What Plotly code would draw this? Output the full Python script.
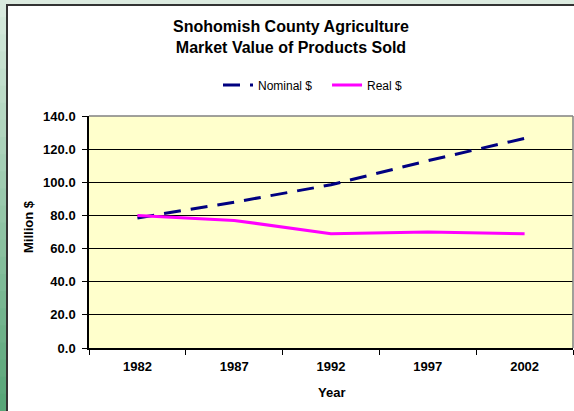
import plotly.graph_objects as go

# Data (million $)
years = ['1982', '1987', '1992', '1997', '2002']
nominal = [78.5, 88.0, 98.5, 113.0, 126.5]
real = [80.0, 77.0, 69.0, 70.0, 69.0]

W, H = 574, 411
L, R, T, B = 89, 1, 116, 63
pw, ph = W - L - R, H - T - B


def px(x):
    return (x - L) / pw


def py(y):
    return (H - B - y) / ph


fig = go.Figure()

fig.add_trace(go.Scatter(x=years, y=nominal, mode='lines', name='Nominal $\u00a0\u00a0\u00a0',
                         line=dict(color='#000080', width=3, dash='17px,10px')))
fig.add_trace(go.Scatter(x=years, y=real, mode='lines', name='Real $',
                         line=dict(color='#FF00FF', width=3)))

# green frame around the slide (gradient down the left side)
shapes = []
top_c = (0xd8, 0xea, 0xde)
bot_c = (0x58, 0xa6, 0x78)
n = 24
for i in range(n):
    t = i / (n - 1)
    c = tuple(int(top_c[k] + (bot_c[k] - top_c[k]) * t) for k in range(3))
    y0 = H * i / n
    y1 = H * (i + 1) / n + 1
    shapes.append(dict(type='rect', xref='paper', yref='paper', layer='above',
                       x0=px(0), x1=px(6), y0=py(y1), y1=py(y0),
                       fillcolor='rgb(%d,%d,%d)' % c, line=dict(width=0)))
shapes.append(dict(type='rect', xref='paper', yref='paper', layer='above',
                   x0=px(6), x1=px(W), y0=py(4), y1=py(0),
                   fillcolor='#dcebe0', line=dict(width=0)))
shapes.append(dict(type='line', xref='paper', yref='paper', layer='above',
                   x0=px(7), x1=px(7), y0=py(H), y1=py(4.5),
                   line=dict(color='#333333', width=2)))
shapes.append(dict(type='line', xref='paper', yref='paper', layer='above',
                   x0=px(6), x1=px(W), y0=py(5), y1=py(5),
                   line=dict(color='#333333', width=2)))
# grey border on top/right of the plot area
shapes.append(dict(type='line', xref='paper', yref='paper',
                   x0=0, x1=1, y0=1, y1=1, line=dict(color='#808080', width=1.5)))
shapes.append(dict(type='line', xref='paper', yref='paper',
                   x0=1, x1=1, y0=0, y1=1, line=dict(color='#808080', width=1.5)))

annotations = [
    dict(text='<b>Year</b>', xref='paper', yref='paper', x=px(331), y=py(392),
         xanchor='center', yanchor='middle', showarrow=False, font=dict(size=13)),
    dict(text='<b>Million $</b>', xref='paper', yref='paper', x=px(28), y=py(227),
         xanchor='center', yanchor='middle', showarrow=False, textangle=-90,
         font=dict(size=13)),
]

fig.update_layout(
    width=W, height=H,
    margin=dict(l=L, r=R, t=T, b=B, autoexpand=False),
    paper_bgcolor='white',
    plot_bgcolor='#FFFFCC',
    font=dict(family='Arial, Liberation Sans', size=12, color='black'),
    title=dict(text='<b>Snohomish County Agriculture<br>Market Value of Products Sold</b>',
               xref='container', x=291 / W, xanchor='center',
               yref='container', y=1 - 32 / H, yanchor='top',
               font=dict(size=16)),
    legend=dict(orientation='h', x=px(313), xanchor='center', y=py(85), yanchor='middle',
                font=dict(size=12), bgcolor='rgba(0,0,0,0)', itemwidth=30),
    shapes=shapes,
    annotations=annotations,
    showlegend=True,
)

fig.update_xaxes(
    type='category', tickson='boundaries', range=[-0.5, 4.5], automargin=False,
    showline=True, linecolor='black', linewidth=1.5,
    ticks='outside', ticklen=5, tickcolor='black', ticklabelstandoff=6,
    showgrid=False,
    tickfont=dict(size=13, weight='bold'),
)
fig.update_yaxes(
    range=[0, 140], dtick=20, tickformat='.1f', automargin=False,
    showline=True, linecolor='black', linewidth=1.5,
    ticks='outside', ticklen=5, tickcolor='black', ticklabelstandoff=4,
    showgrid=True, gridcolor='black', gridwidth=1, zeroline=False,
    tickfont=dict(size=13, weight='bold'),
)

# drop the browser's default body margin so the figure sits at the window origin
fig.write_html('out.html', config={'displayModeBar': False},
               post_script="document.body.style.margin='0';document.body.style.overflow='hidden';")
